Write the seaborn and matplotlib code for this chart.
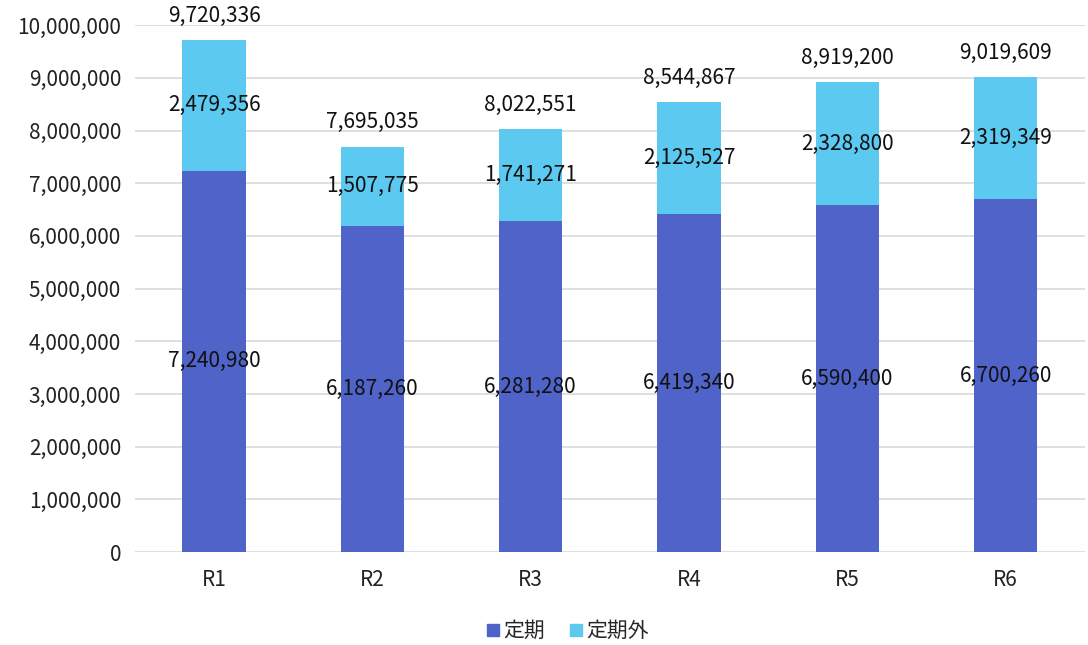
import numpy as np
import pandas as pd
import seaborn as sns
import matplotlib.pyplot as plt
from matplotlib.lines import Line2D

years = ["R1", "R2", "R3", "R4", "R5", "R6"]
teiki = [7240980, 6187260, 6281280, 6419340, 6590400, 6700260]
teikigai = [2479356, 1507775, 1741271, 2125527, 2328800, 2319349]
totals = [a + b for a, b in zip(teiki, teikigai)]

dark = "#4F63C9"
light = "#5BC9F0"

sns.set_theme(style="white")
plt.rcParams["font.family"] = ["Noto Sans CJK JP", "DejaVu Sans"]

df = pd.DataFrame({"year": years, "teiki": teiki, "total": totals})

fig = plt.figure(figsize=(10.88, 6.45), dpi=100)
ax = fig.add_axes([0.124, 0.144, 0.873, 0.817])

# stacked: totals first (light), then 定期 over it (dark)
sns.barplot(data=df, x="year", y="total", color=light, width=0.4,
            saturation=1, linewidth=0, ax=ax, zorder=2)
sns.barplot(data=df, x="year", y="teiki", color=dark, width=0.4,
            saturation=1, linewidth=0, ax=ax, zorder=3)

ax.set_ylim(0, 10000000)
ax.set_xlim(-0.5, 5.5)
ax.set_yticks(np.arange(0, 10000001, 1000000))
ax.set_yticklabels([f"{v:,}" for v in range(0, 10000001, 1000000)])
ax.yaxis.grid(True, color="#D9D9D9", linewidth=1.2, zorder=0)
ax.set_axisbelow(True)
for s in ax.spines.values():
    s.set_visible(False)
ax.tick_params(axis="both", length=0, labelsize=15, colors="#222222")
ax.tick_params(axis="x", pad=12)
ax.tick_params(axis="y", pad=10)
ax.set_xlabel("")
ax.set_ylabel("")

for i in range(len(years)):
    ax.text(i, teiki[i] / 2, f"{teiki[i]:,}", ha="center", va="center",
            fontsize=15, color="#111111", zorder=5)
    ax.text(i, teiki[i] + teikigai[i] / 2, f"{teikigai[i]:,}", ha="center",
            va="center", fontsize=15, color="#111111", zorder=5)
    ax.text(i, totals[i] + 250000, f"{totals[i]:,}", ha="center",
            va="bottom", fontsize=15, color="#111111", zorder=5)

handles = [Line2D([], [], marker="s", linestyle="", color=dark, markersize=8),
           Line2D([], [], marker="s", linestyle="", color=light, markersize=8)]
fig.legend(handles, ["定期", "定期外"], loc="center", bbox_to_anchor=(0.52, 0.022),
           ncol=2, frameon=False, fontsize=15, handletextpad=0.0,
           columnspacing=1.0, handlelength=1.0)

fig.savefig("out.png", dpi=100)
